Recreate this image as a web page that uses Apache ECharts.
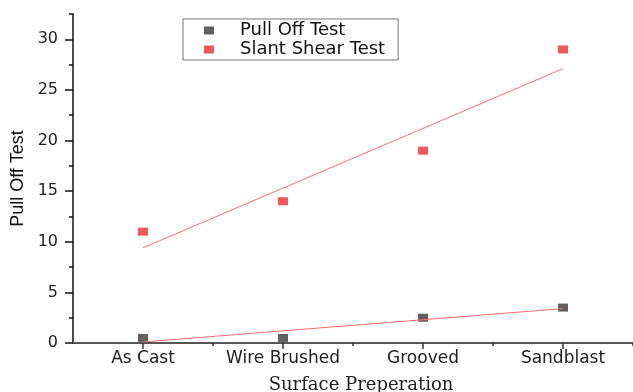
<!DOCTYPE html>
<html>
<head>
<meta charset="utf-8">
<script src="https://cdn.jsdelivr.net/npm/echarts@6/dist/echarts.min.js"></script>
<style>
html,body{margin:0;padding:0;background:#fff;}
#c{width:633px;height:392px;}
</style>
</head>
<body>
<div id="c"></div>
<script>
var categories = ['As Cast', 'Wire Brushed', 'Grooved', 'Sandblast'];
var pullOff = [0.5, 0.5, 2.5, 3.5];
var slantShear = [11, 14, 19, 29];
var pullFit = [0.1, 3.4];
var shearFit = [9.4, 27.1];
var yTicks = [0, 5, 10, 15, 20, 25, 30];
var yMinorTicks = [2.5, 7.5, 12.5, 17.5, 22.5, 27.5, 32.5];
var xTicks = [1, 2, 3, 4];
var xMinorTicks = [1.5, 2.5, 3.5, 4.5];

function pts(vals) { return vals.map(function (v, i) { return [i + 1, v]; }); }
function fitPts(f) { return [[1, f[0]], [categories.length, f[1]]]; }

var chart = echarts.init(document.getElementById('c'));
var grid = { left: 73, right: 0, top: 14, bottom: 49, containLabel: false, outerBoundsMode: 'none' };
chart.setOption({
  animation: false,
  backgroundColor: '#fff',
  grid: grid,
  legend: {
    left: 183, top: 19,
    orient: 'vertical',
    borderColor: '#777', borderWidth: 1,
    padding: [2, 13, 1, 21],
    itemGap: 0,
    itemWidth: 10, itemHeight: 8,
    textStyle: { fontFamily: 'DejaVu Sans', fontSize: 18, color: '#111', lineHeight: 19, padding: [0, 0, 0, 21] },
    data: [{ name: 'Pull Off Test', icon: 'rect' }, { name: 'Slant Shear Test', icon: 'rect' }]
  },
  xAxis: [{
    type: 'value', min: 0.5, max: 4.5,
    name: 'Surface Preperation', nameLocation: 'middle', nameGap: 33,
    nameTextStyle: { fontFamily: 'DejaVu Serif', fontSize: 18, color: '#222', padding: [0, 0, 0, 16] },
    axisLine: { onZero: false, lineStyle: { color: '#555', width: 2 } },
    axisTick: { show: true, length: 6, customValues: xTicks, lineStyle: { color: '#333', width: 1.5 } },
    axisLabel: { customValues: xTicks, margin: 7, fontFamily: 'DejaVu Sans', fontSize: 17, color: '#222',
      formatter: function (v) { return categories[Math.round(v) - 1] || ''; } },
    splitLine: { show: false }
  }, {
    type: 'value', min: 0.5, max: 4.5, position: 'bottom',
    axisLine: { show: false },
    axisTick: { show: true, length: 3, customValues: xMinorTicks, lineStyle: { color: '#333', width: 1.5 } },
    axisLabel: { show: false },
    splitLine: { show: false }
  }],
  yAxis: [{
    type: 'value', min: 0, max: 32.5,
    name: 'Pull Off Test', nameLocation: 'middle', nameGap: 45, nameRotate: 90,
    nameTextStyle: { fontFamily: 'Liberation Sans', fontSize: 18, color: '#111' },
    axisLine: { show: true, lineStyle: { color: '#111', width: 1.5 } },
    axisTick: { show: true, length: 8, customValues: yTicks, lineStyle: { color: '#111', width: 1.5 } },
    axisLabel: { customValues: yTicks, margin: 15, fontFamily: 'DejaVu Sans', fontSize: 16, color: '#222' },
    splitLine: { show: false }
  }, {
    type: 'value', min: 0, max: 32.5, position: 'left',
    axisLine: { show: false },
    axisTick: { show: true, length: 4, customValues: yMinorTicks, lineStyle: { color: '#111', width: 1.5 } },
    axisLabel: { show: false },
    splitLine: { show: false }
  }],
  series: [{
    name: 'Pull Off Test', type: 'scatter', symbol: 'rect', symbolSize: [10, 8],
    itemStyle: { color: '#3a3a3a' }, data: pts(pullOff), z: 3
  }, {
    name: 'Slant Shear Test', type: 'scatter', symbol: 'rect', symbolSize: [10, 8],
    itemStyle: { color: '#ee2f2f' }, data: pts(slantShear), z: 3
  }, {
    name: 'pullFit', type: 'line', showSymbol: false, symbol: 'none', silent: true,
    lineStyle: { color: '#ff6b6b', width: 1 }, data: fitPts(pullFit), z: 4
  }, {
    name: 'shearFit', type: 'line', showSymbol: false, symbol: 'none', silent: true,
    lineStyle: { color: '#ff6b6b', width: 1 }, data: fitPts(shearFit), z: 4
  }]
});
</script>
</body>
</html>
